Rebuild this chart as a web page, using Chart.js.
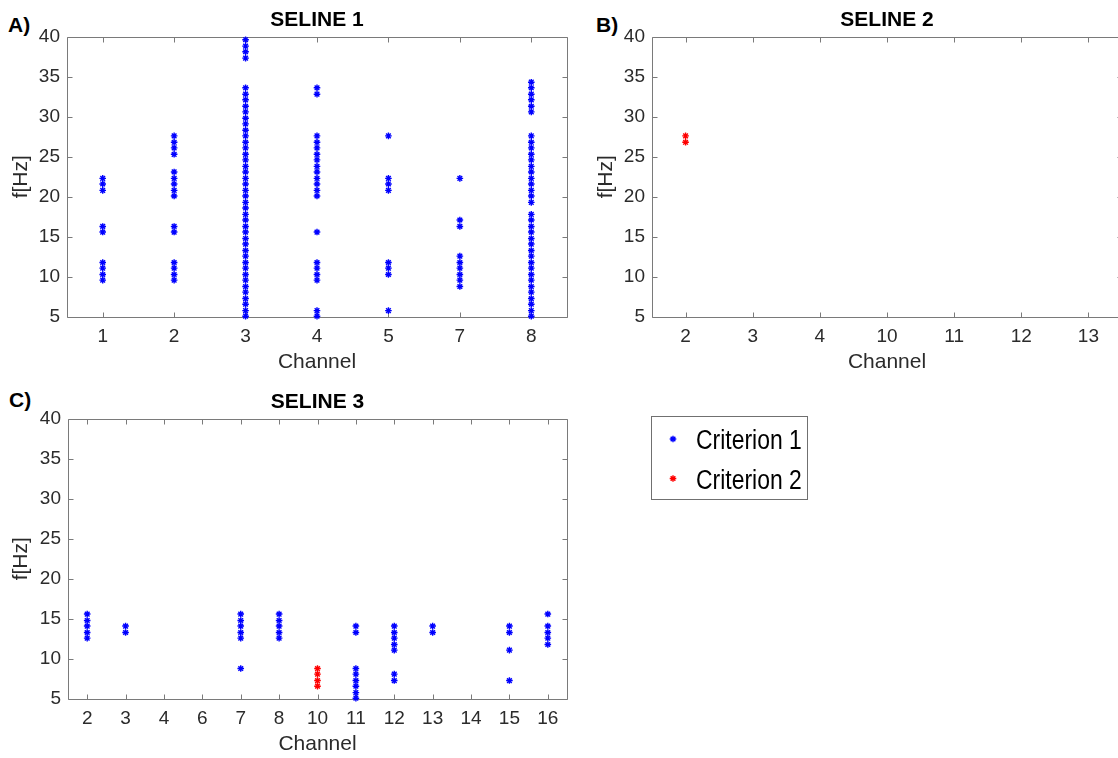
<!DOCTYPE html>
<html>
<head>
<meta charset="utf-8">
<script src="https://cdn.jsdelivr.net/npm/chart.js@4.4.1/dist/chart.umd.min.js"></script>
<style>
  html, body { margin: 0; padding: 0; background: #fff; }
  html { overflow: hidden; }
  body { position: relative; width: 1118px; height: 758px; overflow: hidden; font-family: "Liberation Sans", Arial, sans-serif; }
  canvas { position: absolute; }
  .tag { position: absolute; font: bold 21px/21px "Liberation Sans", Arial, sans-serif; color: #000; }
  #clip2 { position: absolute; left: 585px; top: 0; width: 533px; height: 380px; overflow: hidden; }
  #clip2 canvas { left: 0; top: 0; }
  #legend { position: absolute; left: 651px; top: 416px; width: 157px; height: 84px; box-sizing: border-box; border: 1px solid #707070; background: #fff; }
  #legend canvas { left: 0; top: 0; }
  #legend span { position: absolute; left: 44px; font-size: 27px; line-height: 27px; color: #000; white-space: nowrap; transform: scaleX(0.85); transform-origin: 0 50%; }
</style>
</head>
<body>
<div class="tag" style="left:8px; top:14px">A)</div>
<div class="tag" style="left:596px; top:14px">B)</div>
<div class="tag" style="left:9px; top:389px">C)</div>

<canvas id="seline1" width="580" height="380" style="left:0; top:0"></canvas>
<!-- panel B's box runs on past the right edge of the figure -->
<div id="clip2"><canvas id="seline2" width="552" height="380"></canvas></div>
<canvas id="seline3" width="580" height="376" style="left:0; top:382px"></canvas>

<div id="legend">
  <canvas id="legend-marks" width="155" height="82"></canvas>
  <span style="top:10px">Criterion 1</span>
  <span style="top:50px">Criterion 2</span>
</div>

<script>
// channels shown on each x axis
const seline1Channels = ['1', '2', '3', '4', '5', '7', '8'];
const seline2Channels = ['2', '3', '4', '10', '11', '12', '13'];
const seline3Channels = ['2', '3', '4', '6', '7', '8', '10', '11', '12', '13', '14', '15', '16'];

// detected frequencies (Hz), one list per channel, same order as the channel arrays
const seline1Crit1 = [
  [9.6, 10.3, 11.1, 11.8, 15.6, 16.3, 20.8, 21.6, 22.3],
  [9.6, 10.3, 11.1, 11.8, 15.6, 16.3, 20.1, 20.8, 21.6, 22.3, 23.1, 25.3, 26.1, 26.8, 27.6],
  [5.1, 5.8, 6.6, 7.3, 8.1, 8.8, 9.6, 10.3, 11.1, 11.8, 12.6, 13.3, 14.1, 14.8, 15.6, 16.3, 17.1, 17.8, 18.6, 19.3,
   20.1, 20.8, 21.6, 22.3, 23.1, 23.8, 24.6, 25.3, 26.1, 26.8, 27.6, 28.3, 29.1, 29.8, 30.6, 31.3, 32.1, 32.8, 33.6,
   37.3, 38.1, 38.8, 39.6],
  [5.1, 5.8, 9.6, 10.3, 11.1, 11.8, 15.6, 20.1, 20.8, 21.6, 22.3, 23.1, 23.8, 24.6, 25.3, 26.1, 26.8, 27.6, 32.8, 33.6],
  [5.8, 10.3, 11.1, 11.8, 20.8, 21.6, 22.3, 27.6],
  [8.8, 9.6, 10.3, 11.1, 11.8, 12.6, 16.3, 17.1, 22.3],
  [5.1, 5.8, 6.6, 7.3, 8.1, 8.8, 9.6, 10.3, 11.1, 11.8, 12.6, 13.3, 14.1, 14.8, 15.6, 16.3, 17.1, 17.8,
   19.3, 20.1, 20.8, 21.6, 22.3, 23.1, 23.8, 24.6, 25.3, 26.1, 26.8, 27.6,
   30.6, 31.3, 32.1, 32.8, 33.6, 34.3]
];
const seline1Crit2 = [[], [], [], [], [], [], []];

const seline2Crit1 = [[], [], [], [], [], [], []];
const seline2Crit2 = [[26.8, 27.6], [], [], [], [], [], []];

const seline3Crit1 = [
  [12.6, 13.3, 14.1, 14.8, 15.6],
  [13.3, 14.1],
  [],
  [],
  [8.8, 12.6, 13.3, 14.1, 14.8, 15.6],
  [12.6, 13.3, 14.1, 14.8, 15.6],
  [],
  [5.1, 5.8, 6.6, 7.3, 8.1, 8.8, 13.3, 14.1],
  [7.3, 8.1, 11.1, 11.8, 12.6, 13.3, 14.1],
  [13.3, 14.1],
  [],
  [7.3, 11.1, 13.3, 14.1],
  [11.8, 12.6, 13.3, 14.1, 15.6]
];
const seline3Crit2 = [[], [], [], [], [], [], [6.6, 7.3, 8.1, 8.8], [], [], [], [], [], []];

const freqMin = 5;
const freqMax = 40;
const freqStep = 5;

const BLUE = '#0000ff';
const RED = '#ff0000';
const AXIS = '#7a7a7a';
const TEXT = '#2b2b2b';
const FONT = '"Liberation Sans", Arial, sans-serif';

function toPoints(channels, lists) {
  const pts = [];
  channels.forEach((ch, i) => {
    lists[i].forEach(f => pts.push({ x: ch, y: f }));
  });
  return pts;
}

// box round the axes with inward ticks on all four sides;
// rightEdge: false leaves out the right-hand frame line (panel cut off by the page)
const boxTicks = {
  id: 'boxTicks',
  defaults: { rightEdge: true },
  beforeDatasetsDraw(chart, args, opts) {
    const { ctx, chartArea: a, scales: { x, y } } = chart;
    const L = Math.round(a.left) + 0.5, R = Math.round(a.right) + 0.5;
    const T = Math.round(a.top) + 0.5, B = Math.round(a.bottom) + 0.5;
    const len = 5;
    ctx.save();
    ctx.strokeStyle = AXIS;
    ctx.lineWidth = 1;
    ctx.beginPath();
    ctx.moveTo(R, T); ctx.lineTo(L, T); ctx.lineTo(L, B); ctx.lineTo(R, B);
    if (opts.rightEdge) ctx.lineTo(R, T);
    x.ticks.forEach((t, i) => {
      const px = Math.round(x.getPixelForTick(i)) + 0.5;
      ctx.moveTo(px, B); ctx.lineTo(px, B - len);
      ctx.moveTo(px, T); ctx.lineTo(px, T + len);
    });
    y.ticks.forEach((t, i) => {
      const py = Math.round(y.getPixelForTick(i)) + 0.5;
      ctx.moveTo(L, py); ctx.lineTo(L + len, py);
      ctx.moveTo(R, py); ctx.lineTo(R - len, py);
    });
    ctx.stroke();
    ctx.restore();
  }
};

function makePanel(id, title, channels, crit1, crit2, yWidth, padRight, axisHeight, rightEdge) {
  const marker = { pointStyle: 'star', pointRadius: 3.3, pointBorderWidth: 1.4, clip: false };
  return new Chart(document.getElementById(id), {
    type: 'scatter',
    data: {
      labels: channels,
      datasets: [
        { label: 'Criterion 1', data: toPoints(channels, crit1), borderColor: BLUE, backgroundColor: BLUE, ...marker },
        { label: 'Criterion 2', data: toPoints(channels, crit2), borderColor: RED, backgroundColor: RED, ...marker }
      ]
    },
    options: {
      responsive: false,
      animation: false,
      layout: { autoPadding: false, padding: { top: 0, right: padRight, bottom: 0, left: 0 } },
      plugins: {
        legend: { display: false },
        tooltip: { enabled: false },
        boxTicks: { rightEdge },
        title: {
          display: true,
          text: title,
          fullSize: false,
          color: '#000',
          font: { family: FONT, size: 21, weight: 'bold' },
          padding: { top: 7.7, bottom: 3.6 }
        }
      },
      scales: {
        x: {
          type: 'category',
          labels: channels,
          offset: true,
          grid: { display: false, drawTicks: false },
          border: { display: false },
          ticks: { color: TEXT, padding: 8, font: { family: FONT, size: 19 } },
          title: { display: true, text: 'Channel', color: TEXT, font: { family: FONT, size: 21 }, padding: { top: 0, bottom: 5.4 - (63 - axisHeight) } },
          // fixed axis height; end labels sit inside the category offset, so no extra side padding
          afterFit: s => { s.height = axisHeight; s.paddingLeft = 0; s.paddingRight = 0; }
        },
        y: {
          min: freqMin,
          max: freqMax,
          grid: { display: false, drawTicks: false },
          border: { display: false },
          ticks: { stepSize: freqStep, color: TEXT, padding: 7, font: { family: FONT, size: 19 } },
          title: { display: true, text: 'f[Hz]', color: TEXT, font: { family: FONT, size: 21 }, padding: { top: 8.6, bottom: 0 } },
          afterFit: s => { s.width = yWidth; }
        }
      }
    },
    plugins: [boxTicks]
  });
}

makePanel('seline1', 'SELINE 1', seline1Channels, seline1Crit1, seline1Crit2, 67, 13, 63, true);
makePanel('seline2', 'SELINE 2', seline2Channels, seline2Crit1, seline2Crit2, 67, 15, 63, false);
makePanel('seline3', 'SELINE 3', seline3Channels, seline3Crit1, seline3Crit2, 68, 13, 59, true);

// legend markers, same star shape as the plotted points
function drawStar(ctx, cx, cy, r, color) {
  ctx.strokeStyle = color;
  ctx.lineWidth = 1.4;
  ctx.beginPath();
  [0, Math.PI / 4, Math.PI / 2, 3 * Math.PI / 4].forEach(a => {
    ctx.moveTo(cx - Math.cos(a) * r, cy - Math.sin(a) * r);
    ctx.lineTo(cx + Math.cos(a) * r, cy + Math.sin(a) * r);
  });
  ctx.stroke();
}
const lctx = document.getElementById('legend-marks').getContext('2d');
drawStar(lctx, 21, 22, 3.3, BLUE);
drawStar(lctx, 21, 61.5, 3.3, RED);
</script>
</body>
</html>
